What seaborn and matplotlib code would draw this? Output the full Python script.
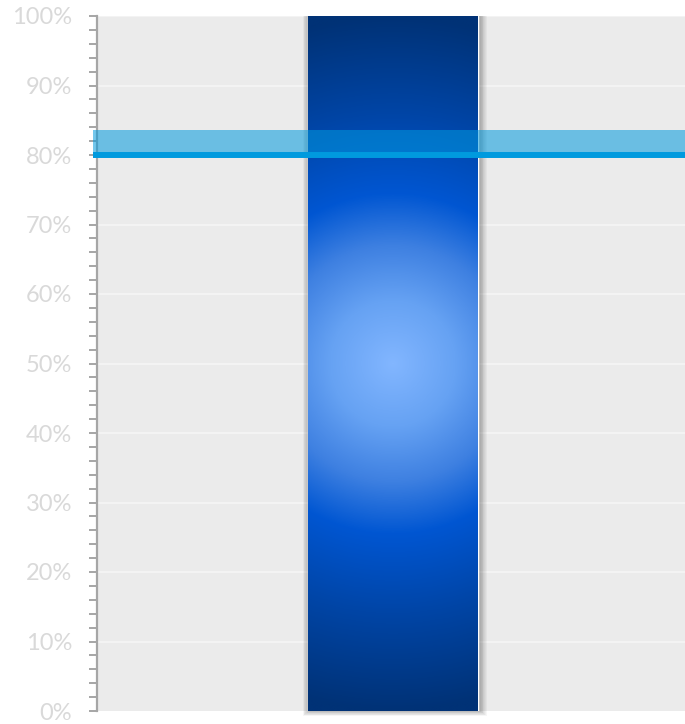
import numpy as np
import pandas as pd
import matplotlib
matplotlib.use("Agg")
import matplotlib.pyplot as plt
import seaborn as sns
from matplotlib.colors import LinearSegmentedColormap
from matplotlib.patches import Rectangle
from matplotlib.ticker import MultipleLocator, PercentFormatter

# Chart data
categories = ["Progress"]
values = [100]          # bar value, percent
target = 80             # target line, percent
target_band_top = 83.6  # upper edge of the tolerance band, percent

df = pd.DataFrame({"category": categories, "value": values})

sns.set_theme(style="white")
plt.rcParams["font.family"] = ["Lato", "DejaVu Sans"]

fig = plt.figure(figsize=(6.85, 7.24), dpi=100)
ax = fig.add_axes([97 / 685, 13 / 724, 588 / 685, 695 / 724])
ax.set_facecolor("#ebebeb")

XLIM = (-0.504, 0.496)
bar_width = 170 / 588
sns.barplot(data=df, x="category", y="value", ax=ax, width=bar_width,
            color="#0055d0", saturation=1, zorder=3)
ax.set_xlim(*XLIM)
ax.set_ylim(0, 100)

# px -> data conversions
px_x = 1.0 / 588
px_y = 100.0 / 695

bar = ax.patches[0]
x0, w, h = bar.get_x(), bar.get_width(), bar.get_height()

# soft drop shadow around the bar
for i in range(1, 9):
    ax.add_patch(Rectangle((x0 - i * px_x * 0.9 + px_x * 1.5, -i * px_y * 0.6),
                           w + 2 * i * px_x * 0.9, h + i * px_y * 0.6,
                           facecolor="black", edgecolor="none", alpha=0.035,
                           zorder=2, clip_on=False))

# radial gradient fill, circular in pixel space
bw_px, bh_px = w / px_x, h / px_y
nx, ny = 200, 800
xs = np.linspace(-bw_px / 2, bw_px / 2, nx)
ys = np.linspace(-bh_px / 2, bh_px / 2, ny)
X, Y = np.meshgrid(xs, ys)
R = np.sqrt(X ** 2 + Y ** 2) / (bh_px / 2)
cmap = LinearSegmentedColormap.from_list(
    "bar_grad",
    [(0.0, "#82b6ff"), (0.18, "#66a2f3"), (0.34, "#3e80e1"),
     (0.49, "#0056d2"), (0.72, "#0045a6"), (1.0, "#003276")])
img = ax.imshow(np.clip(R, 0, 1), cmap=cmap, vmin=0, vmax=1,
                extent=(x0, x0 + w, 0, h), origin="lower",
                aspect="auto", interpolation="bilinear", zorder=4)
img.set_clip_path(bar)
bar.set_facecolor("none")
ax.set_xlim(*XLIM)
ax.set_ylim(0, 100)

# tolerance band and target line
ax.add_patch(Rectangle((XLIM[0] - 4 * px_x, target), 1 + 4 * px_x,
                       target_band_top - target, facecolor="#009ade",
                       alpha=0.55, edgecolor="none", zorder=5, clip_on=False))
ax.plot([XLIM[0] - 4 * px_x, XLIM[1]], [target, target], color="#009ade",
        lw=4.3, solid_capstyle="butt", zorder=6, clip_on=False)

# gridlines
for g in range(10, 101, 10):
    ax.axhline(g, color="white", lw=1.2, alpha=0.5, zorder=1)

# axes styling
for s in ["top", "right", "bottom"]:
    ax.spines[s].set_visible(False)
ax.spines["left"].set_color("#a6a6a6")
ax.spines["left"].set_linewidth(1.6)
ax.yaxis.set_major_locator(MultipleLocator(10))
ax.yaxis.set_minor_locator(MultipleLocator(2))
ax.yaxis.set_major_formatter(PercentFormatter(decimals=0))
ax.tick_params(axis="y", which="both", left=True, length=6, width=1.4,
               color="#a6a6a6", direction="out")
ax.tick_params(axis="y", which="major", labelsize=17, labelcolor="#d9d9d9",
               pad=12)
ax.set_xticks([])
ax.set_xlabel("")
ax.set_ylabel("")

fig.savefig("out.png", dpi=100, facecolor="white")
